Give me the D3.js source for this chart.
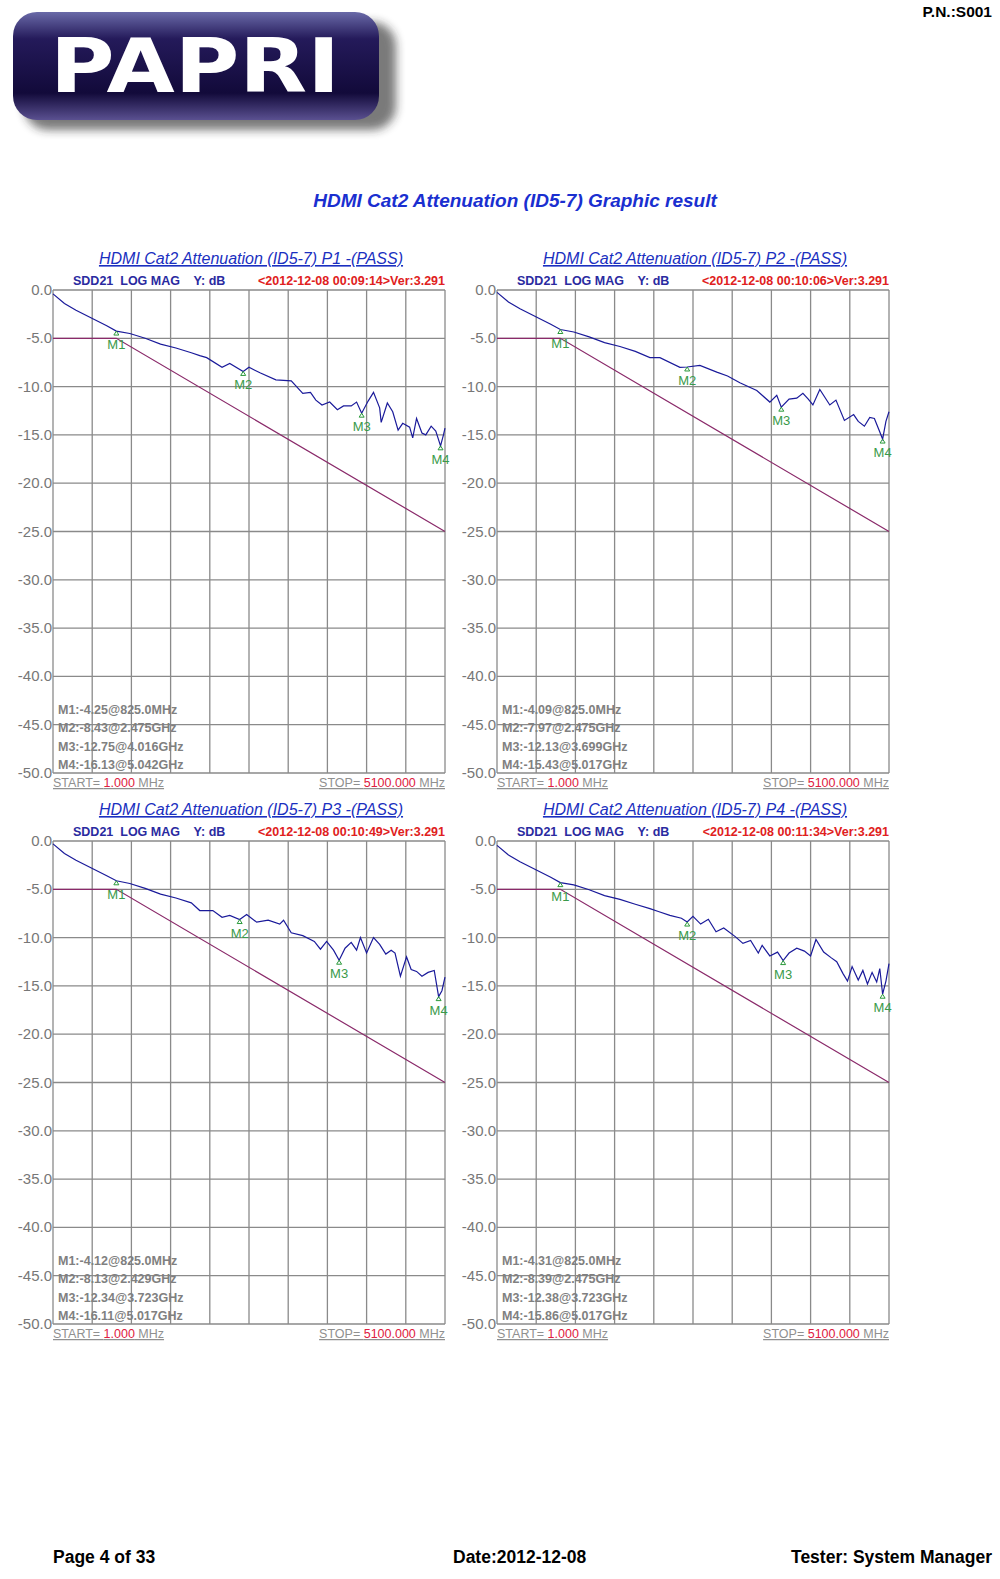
<!DOCTYPE html>
<html>
<head>
<meta charset="utf-8">
<script src="https://cdn.jsdelivr.net/npm/d3@7"></script>
<style>
  html, body { margin: 0; background: #fff; overflow: hidden; }
  svg { display: block; font-family: Arial, "Liberation Sans", sans-serif; }
</style>
</head>
<body>
<div id="page"></div>
<script>
// common low-frequency part, slightly shifted per port
const head = [[1,-0.4],[150,-1.4],[300,-2.1],[500,-2.9],[700,-3.7],[1000,-4.5],[1200,-5.0],[1400,-5.6],[1600,-6.0],[1800,-6.5]];

const panels = [
  { name: "P1", time: "2012-12-08 00:09:14", ox: 53, oy: 290, shift: 0,
    markers: [[825,-4.25],[2475,-8.43],[4016,-12.75],[5042,-16.13]],
    text: ["M1:-4.25@825.0MHz","M2:-8.43@2.475GHz","M3:-12.75@4.016GHz","M4:-16.13@5.042GHz"],
    tail: [[1910,-6.8],[2000,-7.0],[2200,-8.0],[2300,-7.6],[2475,-8.43],[2550,-8.0],[2700,-8.6],[2900,-9.3],[3100,-9.4],[3250,-10.7],[3350,-10.6],[3420,-11.4],[3500,-11.9],[3600,-11.6],[3700,-12.4],[3780,-12.0],[3880,-12.0],[3950,-11.6],[4016,-12.75],[4100,-11.5],[4170,-10.6],[4250,-12.2],[4270,-13.7],[4350,-11.7],[4420,-12.6],[4490,-14.5],[4550,-13.8],[4640,-14.2],[4680,-15.3],[4730,-13.3],[4800,-14.8],[4850,-15.0],[4920,-14.1],[4980,-14.6],[5042,-16.13],[5080,-15.0],[5100,-14.3]] },
  { name: "P2", time: "2012-12-08 00:10:06", ox: 497, oy: 290, shift: 0.15,
    markers: [[825,-4.09],[2475,-7.97],[3699,-12.13],[5017,-15.43]],
    text: ["M1:-4.09@825.0MHz","M2:-7.97@2.475GHz","M3:-12.13@3.699GHz","M4:-15.43@5.017GHz"],
    tail: [[1990,-7.0],[2120,-7.0],[2380,-8.0],[2475,-7.97],[2640,-7.8],[2860,-8.5],[3000,-8.9],[3160,-9.6],[3380,-10.4],[3550,-11.6],[3640,-10.9],[3699,-12.13],[3800,-11.3],[3900,-11.2],[3980,-10.7],[4050,-11.3],[4110,-11.9],[4200,-10.3],[4330,-11.9],[4410,-11.4],[4520,-13.5],[4640,-12.9],[4700,-13.6],[4780,-14.1],[4850,-13.2],[4910,-13.3],[4970,-14.5],[5017,-15.43],[5060,-13.6],[5100,-12.6]] },
  { name: "P3", time: "2012-12-08 00:10:49", ox: 53, oy: 841, shift: 0.1,
    markers: [[825,-4.12],[2429,-8.13],[3723,-12.34],[5017,-16.11]],
    text: ["M1:-4.12@825.0MHz","M2:-8.13@2.429GHz","M3:-12.34@3.723GHz","M4:-16.11@5.017GHz"],
    tail: [[1910,-7.2],[2080,-7.2],[2200,-7.9],[2300,-7.7],[2429,-8.13],[2520,-7.6],[2650,-8.4],[2800,-8.2],[2950,-8.6],[3000,-8.2],[3100,-9.5],[3250,-9.8],[3400,-10.4],[3480,-11.2],[3560,-10.4],[3650,-11.3],[3723,-12.34],[3800,-11.1],[3880,-10.5],[3950,-11.3],[4000,-10.0],[4080,-11.6],[4170,-10.0],[4250,-10.7],[4330,-11.7],[4400,-11.3],[4450,-11.6],[4520,-14.0],[4600,-12.0],[4660,-13.3],[4730,-13.5],[4800,-14.0],[4880,-13.6],[4960,-13.4],[5017,-16.11],[5060,-15.5],[5100,-14.1]] },
  { name: "P4", time: "2012-12-08 00:11:34", ox: 497, oy: 841, shift: -0.05,
    markers: [[825,-4.31],[2475,-8.39],[3723,-12.38],[5017,-15.86]],
    text: ["M1:-4.31@825.0MHz","M2:-8.39@2.475GHz","M3:-12.38@3.723GHz","M4:-15.86@5.017GHz"],
    tail: [[1990,-7.0],[2100,-7.3],[2250,-7.7],[2400,-8.0],[2475,-8.39],[2550,-7.8],[2650,-8.6],[2750,-8.1],[2850,-9.4],[2950,-9.0],[3100,-9.9],[3200,-10.6],[3300,-10.3],[3400,-11.6],[3450,-10.8],[3550,-11.9],[3650,-11.5],[3723,-12.38],[3800,-11.6],[3900,-11.1],[4000,-11.4],[4080,-11.9],[4150,-10.2],[4250,-11.5],[4350,-12.1],[4420,-12.5],[4500,-13.7],[4560,-14.5],[4620,-13.0],[4700,-14.4],[4760,-13.4],[4820,-14.8],[4880,-13.6],[4940,-14.6],[4980,-13.2],[5017,-15.86],[5060,-14.5],[5100,-12.7]] }
];

// limit line: -5 dB up to 825 MHz, then down to -25 dB at 5100 MHz
const limit = [[1,-5],[825,-5],[5100,-25]];

const W = 1000, H = 1579;
const svg = d3.select("#page").append("svg").attr("width", W).attr("height", H);

// logo
const defs = svg.append("defs");
const g1 = defs.append("linearGradient").attr("id","logo").attr("x1",0).attr("y1",0).attr("x2",0).attr("y2",1);
g1.append("stop").attr("offset","0%").attr("stop-color","#6a6aa8");
g1.append("stop").attr("offset","25%").attr("stop-color","#241a5a");
g1.append("stop").attr("offset","75%").attr("stop-color","#120a3a");
g1.append("stop").attr("offset","100%").attr("stop-color","#5a5090");
defs.append("filter").attr("id","blur").append("feGaussianBlur").attr("stdDeviation",5);
svg.append("rect").attr("x",24).attr("y",22).attr("width",372).attr("height",108).attr("rx",24)
  .attr("fill","#222").attr("opacity",0.6).attr("filter","url(#blur)");
svg.append("rect").attr("x",13).attr("y",12).attr("width",366).attr("height",108).attr("rx",24).attr("fill","url(#logo)");
svg.append("text").attr("x",195).attr("y",92).attr("text-anchor","middle")
  .attr("font-family","'DejaVu Sans', Arial").attr("font-weight","900").attr("font-size",74)
  .attr("fill","#fff").attr("textLength",290).attr("lengthAdjust","spacingAndGlyphs").text("PAPRI");

svg.append("text").attr("x",992).attr("y",17).attr("text-anchor","end").attr("font-weight","bold")
  .attr("font-size",15.5).text("P.N.:S001");

svg.append("text").attr("x",515).attr("y",207).attr("text-anchor","middle").attr("font-weight","bold")
  .attr("font-style","italic").attr("font-size",19).attr("fill","#1a2fd0")
  .text("HDMI Cat2 Attenuation (ID5-7) Graphic result");

const pw = 392, ph = 483;

panels.forEach(p => {
  const g = svg.append("g").attr("transform", `translate(${p.ox},${p.oy})`);
  const x = d3.scaleLinear().domain([1, 5100]).range([0, pw]);
  const y = d3.scaleLinear().domain([0, -50]).range([0, ph]);

  g.append("text").attr("x", pw/2 + 2).attr("y", -26).attr("text-anchor","middle")
    .attr("font-style","italic").attr("font-size",16).attr("fill","#1a2fc0")
    .attr("text-decoration","underline").text(`HDMI Cat2 Attenuation (ID5-7) ${p.name} -(PASS)`);
  g.append("text").attr("x",20).attr("y",-5).attr("font-size",12.5).attr("font-weight","bold")
    .attr("fill","#2a2aa0").attr("xml:space","preserve").text("SDD21  LOG MAG    Y: dB");
  g.append("text").attr("x",pw).attr("y",-5).attr("text-anchor","end").attr("font-size",12.5)
    .attr("font-weight","bold").attr("fill","#e02020").text(`<${p.time}>Ver:3.291`);

  // grid
  const xt = d3.range(11).map(i => 1 + i * 5099 / 10);
  g.selectAll(".vx").data(xt).join("line").attr("x1", d => x(d)).attr("x2", d => x(d))
    .attr("y1",0).attr("y2",ph).attr("stroke","#8a8a8a").attr("stroke-width",1.3);
  const yt = d3.range(0, -51, -5);
  g.selectAll(".hy").data(yt).join("line").attr("x1",0).attr("x2",pw)
    .attr("y1", d => y(d)).attr("y2", d => y(d)).attr("stroke","#8a8a8a").attr("stroke-width",1.3);
  g.selectAll(".yl").data(yt).join("text").attr("x",-1).attr("y", d => y(d) + 5)
    .attr("text-anchor","end").attr("font-size",15).attr("fill","#777")
    .text(d => d3.format(".1f")(d).replace("−","-"));

  // limit
  const line = d3.line().x(d => x(d[0])).y(d => y(d[1]));
  g.append("path").attr("d", line(limit)).attr("fill","none").attr("stroke","#8a2a6a").attr("stroke-width",1.2);

  // trace
  const data = head.map(d => [d[0], d[1] + p.shift]).concat([p.markers[0]]).sort((a,b)=>a[0]-b[0])
    .concat(p.tail);
  g.append("path").attr("d", line(data)).attr("fill","none").attr("stroke","#1a1a9a").attr("stroke-width",1.2);

  // markers
  p.markers.forEach((m, i) => {
    const mx = x(m[0]), my = y(m[1]);
    g.append("path").attr("d", `M${mx},${my} l-2.5,4 h5 z`).attr("fill","none").attr("stroke","#2a9a3a");
    g.append("text").attr("x", mx).attr("y", my + 18).attr("text-anchor","middle")
      .attr("font-size",13).attr("fill","#3a9a4a").text("M" + (i + 1));
  });

  g.selectAll(".mt").data(p.text).join("text").attr("x",5).attr("y",(d,i) => ph - 59 + i * 18.3)
    .attr("font-size",12.5).attr("font-weight","bold").attr("fill","#808080").text(d => d);

  const s = g.append("text").attr("x",0).attr("y",ph+14).attr("font-size",12.5).attr("fill","#909090")
    .attr("text-decoration","underline").attr("xml:space","preserve");
  s.append("tspan").text("START= ");
  s.append("tspan").attr("fill","#e02040").text("1.000");
  s.append("tspan").text(" MHz");
  const e = g.append("text").attr("x",pw).attr("y",ph+14).attr("text-anchor","end").attr("font-size",12.5)
    .attr("fill","#909090").attr("text-decoration","underline").attr("xml:space","preserve");
  e.append("tspan").text("STOP= ");
  e.append("tspan").attr("fill","#e02040").text("5100.000");
  e.append("tspan").text(" MHz");
});

// footer
const f = svg.append("g").attr("font-weight","bold").attr("font-size",17.5);
f.append("text").attr("x",53).attr("y",1563).text("Page 4 of 33");
f.append("text").attr("x",453).attr("y",1563).text("Date:2012-12-08");
f.append("text").attr("x",992).attr("y",1563).attr("text-anchor","end").text("Tester: System Manager");
</script>
</body>
</html>
